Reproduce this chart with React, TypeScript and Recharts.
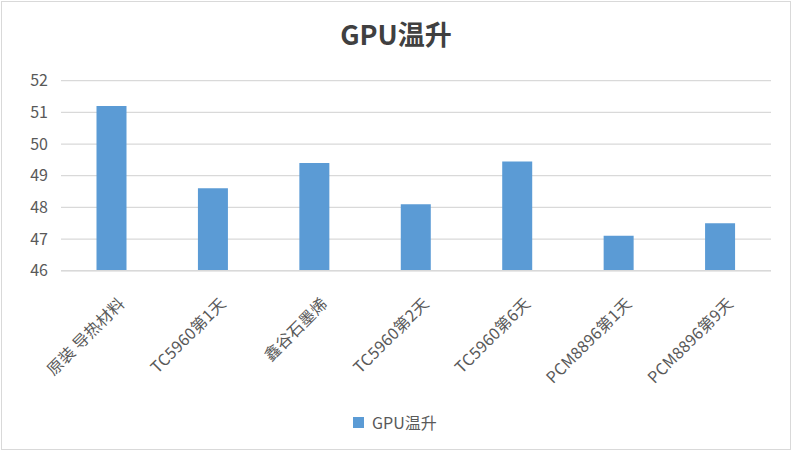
import React from 'react';
import { BarChart, Bar, XAxis, YAxis, CartesianGrid } from 'recharts';

const categories = ['原装 导热材料', 'TC5960第1天', '鑫谷石墨烯', 'TC5960第2天', 'TC5960第6天', 'PCM8896第1天', 'PCM8896第9天'];
const gpuRise = [51.2, 48.6, 49.4, 48.1, 49.45, 47.1, 47.5];
const yTicks = [46, 47, 48, 49, 50, 51, 52];

const SERIES = 'GPU温升';
const BLUE = '#5b9bd5';
const FONT = '"Noto Sans CJK SC", "Noto Sans", sans-serif';

const data = categories.map((name, i) => ({ name, value: gpuRise[i] }));

function CategoryTick({ x, y, payload }: any) {
  const ax = x + 14;
  const ay = y + 26;
  return (
    <text
      x={ax}
      y={ay}
      textAnchor="end"
      fill="#595959"
      fontSize={16}
      letterSpacing={0.3}
      fontFamily={FONT}
      transform={`rotate(-45, ${ax}, ${ay})`}
    >
      {payload.value}
    </text>
  );
}

export default function App() {
  return (
    <div
      style={{
        position: 'absolute',
        left: 1,
        top: 1,
        width: 790,
        height: 449,
        border: '1px solid #d9d9d9',
        boxSizing: 'border-box',
        background: '#fff',
        fontFamily: FONT,
      }}
    >
      <div
        style={{
          position: 'absolute',
          top: 14,
          left: 0,
          width: '100%',
          textAlign: 'center',
          fontSize: 27,
          fontWeight: 'bold',
          color: '#404040',
          lineHeight: '36px',
        }}
      >
        {SERIES}
      </div>
      <div style={{ position: 'absolute', left: 0, top: 0 }}>
        <BarChart
          width={788}
          height={447}
          data={data}
          margin={{ top: 78.7, right: 19, left: 0, bottom: 0 }}
          barCategoryGap="35%"
        >
          <CartesianGrid vertical={false} stroke="#d9d9d9" strokeWidth={1.3} />
          <XAxis
            dataKey="name"
            interval={0}
            height={178.3}
            tickLine={false}
            axisLine={{ stroke: '#d9d9d9', strokeWidth: 1.5 }}
            tick={<CategoryTick />}
          />
          <YAxis
            width={59}
            domain={[46, 52]}
            ticks={yTicks}
            tickLine={false}
            axisLine={false}
            tickSize={0}
            tickMargin={13}
            tick={{ fill: '#595959', fontSize: 16, fontFamily: FONT }}
          />
          <Bar dataKey="value" fill={BLUE} isAnimationActive={false} />
        </BarChart>
      </div>
      <div
        style={{
          position: 'absolute',
          top: 409,
          left: 351,
          display: 'flex',
          alignItems: 'center',
          fontSize: 16,
          color: '#595959',
          height: 22,
        }}
      >
        <span style={{ width: 11, height: 11, background: BLUE, display: 'inline-block', marginRight: 8 }} />
        <span>{SERIES}</span>
      </div>
    </div>
  );
}
